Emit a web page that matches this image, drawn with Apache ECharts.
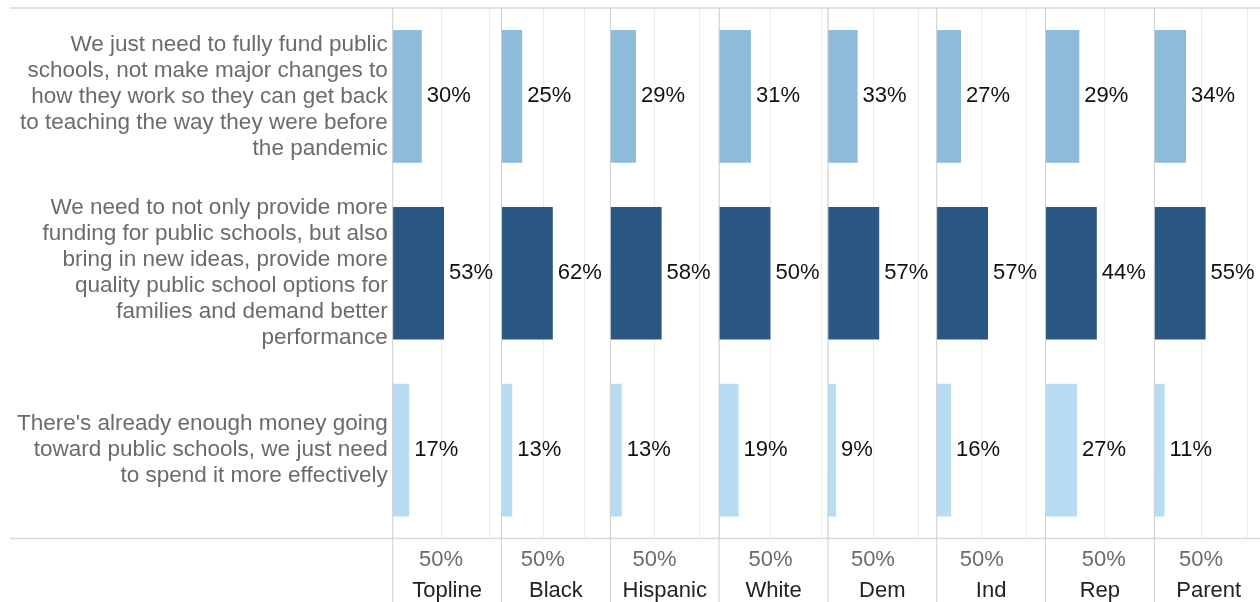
<!DOCTYPE html>
<html>
<head>
<meta charset="utf-8">
<script src="https://cdn.jsdelivr.net/npm/echarts@6/dist/echarts.min.js"></script>
<style>html,body{margin:0;padding:0;background:#fff}#c{width:1260px;height:602px}</style>
</head>
<body>
<div id="c"></div>
<script>
// ---- data ----
const categories = [
  "We just need to fully fund public\nschools, not make major changes to\nhow they work so they can get back\nto teaching the way they were before\nthe pandemic",
  "We need to not only provide more\nfunding for public schools, but also\nbring in new ideas, provide more\nquality public school options for\nfamilies and demand better\nperformance",
  "There's already enough money going\ntoward public schools, we just need\nto spend it more effectively"
];
const groups = ["Topline", "Black", "Hispanic", "White", "Dem", "Ind", "Rep", "Parent"];
const fullyFund   = [30, 25, 29, 31, 33, 27, 29, 34];
const newIdeas    = [53, 62, 58, 50, 57, 57, 44, 55];
const spendBetter = [17, 13, 13, 19, 9, 16, 27, 11];
const tickLabels = ["50%"];

// ---- styling / layout ----
const COLORS = ["#8fbbdb", "#2b5783", "#b6ddf1"];
const FONT = "Liberation Sans, Arial, sans-serif";
const LEFT0 = 392.7, STEP = 108.8, TOP = 8, BOTTOM_Y = 538.5;
const SCALE = 2.12; // panel axis extent relative to panel max

const rows = [fullyFund, newIdeas, spendBetter];
const grids = [], xAxes = [], yAxes = [], series = [], graphics = [];

groups.forEach((g, i) => {
  const vals = rows.map(r => r[i]);
  const mx = Math.max.apply(null, vals) * SCALE;
  grids.push({left: LEFT0 + STEP * i, width: STEP, top: TOP, height: BOTTOM_Y - TOP,
              containLabel: false, outerBoundsMode: 'none'});
  xAxes.push({
    gridIndex: i, type: 'value', min: 0, max: mx, interval: 50,
    axisLine: {show: false}, axisTick: {show: false},
    splitLine: {show: true, lineStyle: {color: '#ececec', width: 1}},
    axisLabel: {
      margin: 10.5, fontSize: 22, color: '#6b6b6b', fontFamily: FONT,
      showMaxLabel: false, showMinLabel: false,
      formatter: v => (v === 50 ? tickLabels[0] : '')
    },
    name: g, nameLocation: 'middle', nameGap: 41,
    nameTextStyle: {fontSize: 22, color: '#222', fontFamily: FONT}
  });
  yAxes.push({
    gridIndex: i, type: 'category', inverse: true, data: categories,
    axisLine: {show: false}, axisTick: {show: false}, splitLine: {show: false},
    axisLabel: i === 0 ? {
      show: true, margin: 5, fontSize: 22.5, lineHeight: 26, color: '#6b6b6b',
      fontFamily: FONT, align: 'right'
    } : {show: false}
  });
  series.push({
    type: 'bar', xAxisIndex: i, yAxisIndex: i, barCategoryGap: '25%',
    data: vals.map((v, k) => ({value: v, itemStyle: {color: COLORS[k]}})),
    label: {
      show: true, position: 'right', distance: 5, fontSize: 22, color: '#111',
      fontFamily: FONT, formatter: p => p.value + '%'
    },
    silent: true, animation: false
  });
  graphics.push({
    type: 'line', silent: true, z: 10,
    shape: {x1: LEFT0 + STEP * i, y1: TOP, x2: LEFT0 + STEP * i, y2: 602},
    style: {stroke: '#d0d0d0', lineWidth: 1}
  });
});
graphics.push({type: 'line', silent: true, z: 9,
  shape: {x1: 10, y1: TOP, x2: 1260, y2: TOP}, style: {stroke: '#dadada', lineWidth: 1.5}});
graphics.push({type: 'line', silent: true, z: 9,
  shape: {x1: 10, y1: BOTTOM_Y, x2: 1260, y2: BOTTOM_Y}, style: {stroke: '#dadada', lineWidth: 1.5}});

const chart = echarts.init(document.getElementById('c'), null, {renderer: 'canvas'});
chart.setOption({
  animation: false,
  grid: grids, xAxis: xAxes, yAxis: yAxes, series: series, graphic: graphics
});
</script>
</body>
</html>
